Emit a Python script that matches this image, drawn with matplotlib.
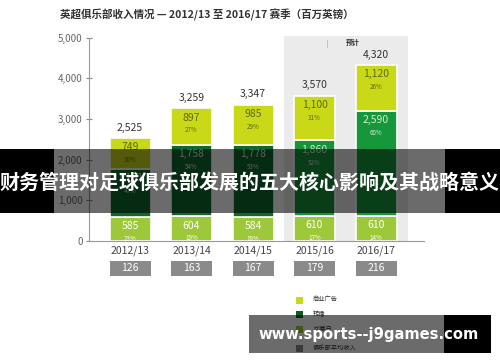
import matplotlib
matplotlib.use('Agg')
import matplotlib.pyplot as plt
from matplotlib.patches import Rectangle

plt.rcParams['font.family'] = ['Noto Sans CJK SC', 'DejaVu Sans']

# --- data ---
seasons = ['2012/13', '2013/14', '2014/15', '2015/16', '2016/17']
matchday = [585, 604, 584, 610, 610]
broadcast = [1191, 1758, 1778, 1860, 2590]
commercial = [749, 897, 985, 1100, 1120]
matchday_pct = ['23%', '19%', '18%', '17%', '14%']
broadcast_pct = ['47%', '54%', '53%', '52%', '60%']
commercial_pct = ['30%', '27%', '29%', '31%', '26%']
totals = [2525, 3259, 3347, 3570, 4320]
avg_revenue = [126, 163, 167, 179, 216]
legend_labels = ['商业广告', '转播', '比赛日', '俱乐部平均收入']

title = '英超俱乐部收入情况 — 2012/13 至 2016/17 赛季（百万英镑）'
banner = '财务管理对足球俱乐部发展的五大核心影响及其战略意义'
watermark = 'www.sports--j9games.com'

# --- colours ---
c_comm = '#c9d817'
c_broad = ['#0e6a2b', '#0e6a2b', '#0e6a2b', '#17913a', '#16973b']
c_match = '#9cc83a'
c_avg = '#8a8a8a'

W, H = 500, 362
fig = plt.figure(figsize=(5, 3.62), dpi=100)
fig.patch.set_facecolor('white')

def fx(px):
    return px / W

def fy(py):
    return 1 - py / H

ax = fig.add_axes([fx(89), fy(241), fx(424) - fx(89), (241 - 36) / H])
ax.set_xlim(-0.667, 4.78)
ax.set_ylim(0, 5037)

x = list(range(len(seasons)))
bw = 0.667

# forecast shading
ax.axvspan(2.5, 4.52, color='#ebebeb', zorder=0, lw=0)

bottoms2 = matchday
bottoms3 = [m + b for m, b in zip(matchday, broadcast)]
ax.bar(x, matchday, bw, color=c_match, edgecolor='white', linewidth=1.2, zorder=2)
ax.bar(x, broadcast, bw, bottom=bottoms2, color=c_broad, edgecolor='white', linewidth=1.2, zorder=2)
ax.bar(x, commercial, bw, bottom=bottoms3, color=c_comm, edgecolor='white', linewidth=1.2, zorder=2)

def seg_label(xi, top, val, pct, col):
    ax.annotate(f'{val:,}', (xi, top), xytext=(0, -3), textcoords='offset points',
                ha='center', va='top', fontsize=7.5, color=col, zorder=3)
    ax.annotate(pct, (xi, top), xytext=(0, -13), textcoords='offset points',
                ha='center', va='top', fontsize=4.5, color=col, zorder=3)

for i in x:
    seg_label(i, matchday[i], matchday[i], matchday_pct[i], 'white')
    seg_label(i, bottoms3[i], broadcast[i], broadcast_pct[i], '#d6ecd0')
    seg_label(i, totals[i], commercial[i], commercial_pct[i], '#5f6b12')
    ax.annotate(f'{totals[i]:,}', (i, totals[i]), xytext=(0, 4), textcoords='offset points',
                ha='center', va='bottom', fontsize=7.5, color='#333333', zorder=3)
    ax.add_patch(Rectangle((i - bw / 2, -0.171), bw, 0.073, transform=ax.get_xaxis_transform(),
                           color=c_avg, clip_on=False, lw=0))
    ax.text(i, -0.134, str(avg_revenue[i]), transform=ax.get_xaxis_transform(),
            ha='center', va='center', fontsize=7.5, color='white')

ax.set_xticks(x)
ax.set_xticklabels(seasons, fontsize=7.5, color='#444444')
ax.tick_params(axis='x', length=0, pad=3)
ax.set_yticks([0, 1000, 2000, 3000, 4000, 5000])
ax.set_yticklabels(['0', '1,000', '2,000', '3,000', '4,000', '5,000'], fontsize=7, color='#666666')
ax.tick_params(axis='y', direction='inout', length=5, width=0.8, color='#888888', pad=2)
for s in ['top', 'right']:
    ax.spines[s].set_visible(False)
ax.spines['left'].set_bounds(0, 5000)
ax.spines['left'].set_color('#999999')
ax.spines['bottom'].set_color('#999999')
ax.set_facecolor('none')

# forecast label
ax.text(3.62, 0.985, '预计', transform=ax.get_xaxis_transform(), ha='center', va='top',
        fontsize=5, fontweight='bold', color='#333333')
fig.add_artist(plt.Line2D([fx(327), fx(327)], [fy(40), fy(47)], color='#bbbbbb', lw=0.6))

# title
fig.text(fx(60), fy(15), title, ha='left', va='center', fontsize=7.6, fontweight='bold', color='#333333')

# legend
leg_colors = [c_comm, '#0e5a25', c_match, c_avg]
leg_y = [300, 314, 329, 348]
for col, lab, py in zip(leg_colors, legend_labels, leg_y):
    fig.add_artist(Rectangle((fx(296), fy(py + 3.5)), 7 / W, 7 / H, color=col, lw=0))
    fig.text(fx(313), fy(py), lab, ha='left', va='center', fontsize=4.5, color='#333333')

# overlay banner (semi-transparent in the middle, solid black at the sides)
fig.add_artist(Rectangle((0, fy(213)), fx(54), 64 / H, color='black', lw=0, zorder=10))
fig.add_artist(Rectangle((fx(445), fy(213)), 1 - fx(445), 64 / H, color='black', lw=0, zorder=10))
fig.add_artist(Rectangle((fx(54), fy(213)), fx(445) - fx(54), 64 / H, color='black', alpha=0.58, lw=0, zorder=10))
fig.text(fx(249), fy(182), banner, ha='center', va='center', fontsize=14.4, fontweight='bold',
         color='white', zorder=11)

# watermark band
fig.add_artist(Rectangle((fx(249), fy(353)), fx(444) - fx(249), 38 / H, color='black', alpha=0.58, lw=0, zorder=10))
fig.add_artist(Rectangle((fx(444), fy(353)), fx(491) - fx(444), 38 / H, color='black', lw=0, zorder=10))
fig.text(fx(258), fy(335), watermark, ha='left', va='center', fontsize=10.6, fontweight='bold',
         color='white', zorder=11, family=['DejaVu Sans'])

fig.savefig('out.png', dpi=100)
